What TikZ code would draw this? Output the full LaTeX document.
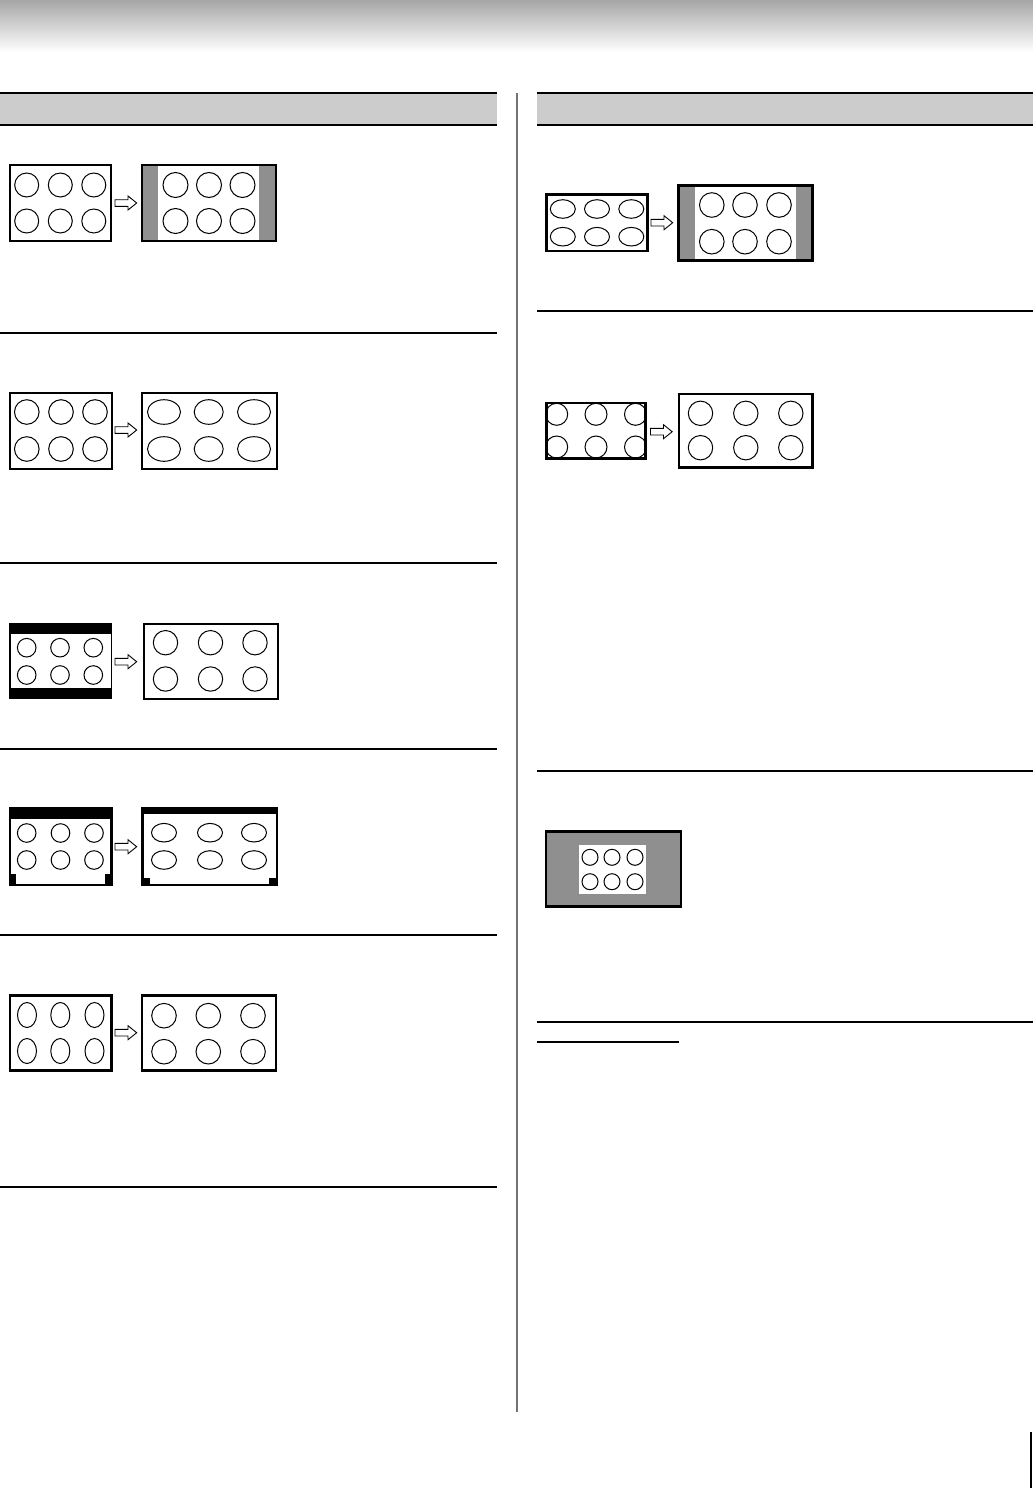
\documentclass[tikz,border=0pt]{standalone}
\begin{document}
\begin{tikzpicture}[x=1pt,y=-1pt,
  scr/.style={draw=black,line width=2.6pt,fill=white},
  rim/.style={draw=black,line width=1pt},
  sep/.style={draw=black,line width=1.2pt},
  hdrline/.style={draw=black,line width=2pt},
  barfill/.style={fill=bargray},
  blk/.style={draw=black,line width=0.9pt,fill=white,line join=miter}]
\definecolor{bargray}{HTML}{8F8F8F}
\definecolor{hdrgray}{HTML}{CCCCCC}
\definecolor{topgray}{HTML}{A6A6A6}
\useasboundingbox (0,0) rectangle (1033,1488);
\fill[white] (0,0) rectangle (1033,1488);
% top gradient band
\shade[top color=topgray,bottom color=white] (0,0) rectangle (1033,52);
% section headers
\fill[hdrgray] (0,93) rectangle (497,125);
\fill[hdrgray] (537,93) rectangle (1033,125);
\draw[hdrline] (0,93) -- (497,93);
\draw[hdrline] (0,125) -- (497,125);
\draw[hdrline] (537,93) -- (1033,93);
\draw[hdrline] (537,125) -- (1033,125);
% divider
\draw[draw=black!55,line width=1.5pt] (517,93) -- (517,1412);
% separators left
\foreach \yy in {333,563,749,935,1187} \draw[sep] (0,\yy) -- (497,\yy);
% separators right
\foreach \yy in {311,771,1022} \draw[sep] (537,\yy) -- (1033,\yy);
\draw[sep] (537,1042) -- (679,1042);
% page marker
\draw[line width=2pt] (1031,1432) -- (1031,1488);

\newcommand\blockarrow[2]{%
  \draw[blk] (#1,#2-3.3) -- ++(13,0) -- ++(0,-3.7) -- ++(8.7,7) -- ++(-8.7,7) -- ++(0,-3.7) -- ++(-13,0) -- cycle;}
\newcommand\sixell[7]{% x1 x2 x3 y1 y2 rx ry
  \foreach \xx in {#1,#2,#3}{\foreach \yy in {#4,#5}{\draw[rim] (\xx,\yy) ellipse [x radius=#6,y radius=#7];}}}

%% ---------- Left 1
\draw[scr] (10,165) rectangle (111,241);
\sixell{26.7}{60.3}{93.8}{185}{221}{12}{12}
\blockarrow{115}{203}
\draw[scr] (142,165) rectangle (276,241);
\fill[bargray] (143.3,166.3) rectangle (157.5,239.7);
\fill[bargray] (259,166.3) rectangle (274.7,239.7);
\sixell{175.5}{209}{242.5}{185}{221}{12.5}{12.5}

%% ---------- Left 2
\draw[scr] (10,393) rectangle (112,469);
\sixell{26.8}{61}{95}{412}{449}{12.3}{12.3}
\blockarrow{115}{430}
\draw[scr] (142,393) rectangle (277,469);
\foreach \yy in {412,449}{
  \draw[rim] (164,\yy) ellipse [x radius=16.5,y radius=12.3];
  \draw[rim] (208.7,\yy) ellipse [x radius=14.5,y radius=12.3];
  \draw[rim] (254,\yy) ellipse [x radius=16.5,y radius=12.3];}

%% ---------- Left 3
\fill[black] (9,623) rectangle (112,699);
\fill[white] (11,634) rectangle (110.5,688);
\sixell{26.7}{60}{93.3}{647.7}{675}{9.3}{9.3}
\blockarrow{115}{661.7}
\draw[scr] (144,624) rectangle (278,699);
\sixell{165.5}{210.5}{255}{642.7}{679}{12.2}{12.2}

%% ---------- Left 4
\draw[scr] (10,808) rectangle (111.5,885);
\fill[black] (9,807) rectangle (112.5,819);
\fill[black] (9,874) rectangle (16,886);
\fill[black] (105,874) rectangle (112.5,886);
\sixell{26.7}{60.5}{94}{833}{860}{9.3}{9.3}
\blockarrow{115}{846.7}
\draw[scr] (142.5,808) rectangle (277,885);
\fill[black] (141.3,807) rectangle (278.3,814);
\fill[black] (141.3,877.5) rectangle (150,886);
\fill[black] (269.3,877.5) rectangle (278.3,886);
\sixell{164}{210}{254}{832.7}{860}{12.5}{9.3}

%% ---------- Left 5
\draw[scr] (10,995.5) rectangle (111.5,1070.5);
\sixell{27}{60.3}{94.5}{1015}{1051}{9.5}{12.5}
\blockarrow{115}{1032.7}
\draw[scr] (142,995.5) rectangle (276,1070.5);
\sixell{164}{208.3}{253}{1015.7}{1051.7}{12.3}{12.3}

%% ---------- Right 1
\draw[scr] (546.5,194.5) rectangle (647.5,251);
\sixell{562.8}{597}{631.3}{209}{236.7}{12.5}{9.3}
\blockarrow{651}{222.7}
\draw[scr] (678.5,185.5) rectangle (812.5,260.5);
\fill[bargray] (679.8,186.8) rectangle (695,259.2);
\fill[bargray] (795.7,186.8) rectangle (811.2,259.2);
\sixell{711.8}{745}{779}{205}{241.7}{12.3}{12.3}

%% ---------- Right 2
\begin{scope}
\clip (546.5,403) rectangle (645.5,458.5);
\sixell{556.7}{596}{635.5}{414.3}{447}{11}{11}
\end{scope}
\draw[scr,fill=none] (546.5,403) rectangle (645.5,458.5);
\blockarrow{650.5}{431.7}
\draw[scr] (679,394) rectangle (812.5,467.5);
\sixell{700.5}{745.8}{790.8}{413.3}{447.7}{12.2}{12.2}

%% ---------- Right 3
\draw[scr,fill=bargray] (546,831.5) rectangle (681,906.5);
\fill[white] (579,845) rectangle (646,894);
\sixell{590}{612}{635}{857.3}{881.7}{8}{8}
\end{tikzpicture}
\end{document}
